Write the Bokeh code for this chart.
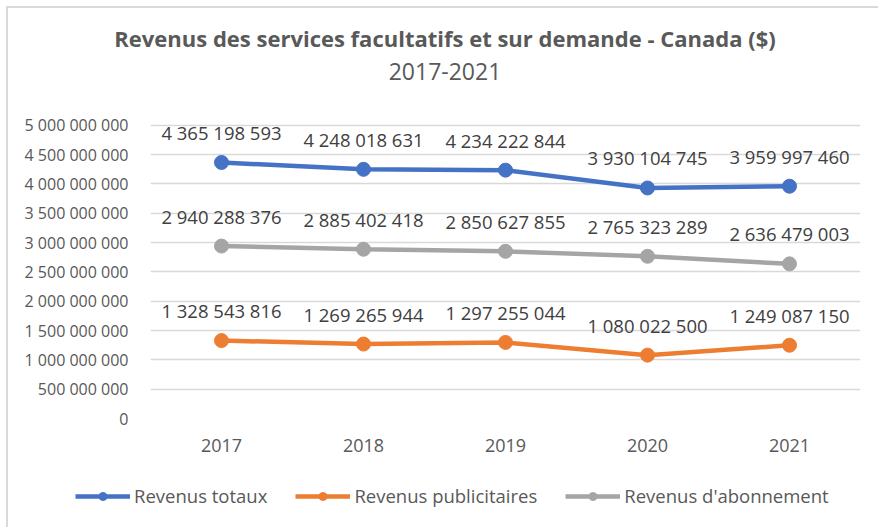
from bokeh.plotting import figure
from bokeh.models import (FactorRange, Range1d, FixedTicker, CustomJSTickFormatter,
                          Legend, LegendItem, ColumnDataSource, Div)
from bokeh.layouts import column
from bokeh.core.properties import value
from bokeh.embed import file_html
from bokeh.resources import INLINE

years = ["2017", "2018", "2019", "2020", "2021"]
revenus_totaux = [4365198593, 4248018631, 4234222844, 3930104745, 3959997460]
revenus_publicitaires = [1328543816, 1269265944, 1297255044, 1080022500, 1249087150]
revenus_abonnement = [2940288376, 2885402418, 2850627855, 2765323289, 2636479003]
y_ticks = [0, 500000000, 1000000000, 1500000000, 2000000000, 2500000000,
           3000000000, 3500000000, 4000000000, 4500000000, 5000000000]
title_text = "Revenus des services facultatifs et sur demande - Canada ($)"
subtitle_text = "2017-2021"

FONT = "Open Sans"
TXT = "#595959"

def fmt(v):
    return "{:,}".format(v).replace(",", " ")

p = figure(x_range=FactorRange(*years, range_padding=0), y_range=Range1d(0, 5.2e9),
           frame_width=710, frame_height=305, output_backend="svg", toolbar_location=None,
           min_border_left=142, min_border_right=18, min_border_top=8, min_border_bottom=48,
           outline_line_color=None)

# legend-only figure below the chart
lf = figure(x_range=FactorRange(*years), y_range=Range1d(-2, -1),
            frame_width=870, frame_height=61, output_backend="svg", toolbar_location=None,
            min_border_left=0, min_border_right=0, min_border_top=0, min_border_bottom=0,
            x_axis_location=None, y_axis_location=None, outline_line_color=None)
lf.xgrid.grid_line_color = None
lf.ygrid.grid_line_color = None

series = [
    ("Revenus totaux", revenus_totaux, "#4472C4"),
    ("Revenus publicitaires", revenus_publicitaires, "#ED7D31"),
    ("Revenus d'abonnement", revenus_abonnement, "#A5A5A5"),
]

items = []
for name, vals, col in series:
    src = ColumnDataSource(dict(x=years, y=vals, lab=[fmt(v) for v in vals]))
    p.line("x", "y", source=src, line_color=col, line_width=4.5)
    p.scatter("x", "y", source=src, size=14, fill_color=col, line_color=col)
    p.text("x", "y", text="lab", source=src, text_align="center", text_baseline="middle",
           y_offset=-30, text_font=value(FONT), text_font_size="18.5px", text_color="#404040")
    l1 = lf.line("x", "y", source=src, line_color=col, line_width=4.5)
    l2 = lf.scatter("x", "y", source=src, size=14, fill_color=col, line_color=col)
    items.append(LegendItem(label=name, renderers=[l1, l2]))

legend = Legend(items=items, orientation="horizontal", location=(67, 19),
                glyph_width=55, glyph_height=20, label_standoff=4, spacing=28,
                label_text_font=FONT, label_text_font_size="18.5px", label_text_color=TXT,
                border_line_color=None, background_fill_alpha=0, margin=0, padding=6)
lf.add_layout(legend, "center")

p.yaxis.ticker = FixedTicker(ticks=y_ticks)
p.yaxis.formatter = CustomJSTickFormatter(code="return Math.round(tick).toString().replace(/\\B(?=(\\d{3})+(?!\\d))/g, ' ');")
for ax in (p.xaxis[0], p.yaxis[0]):
    ax.axis_line_color = None
    ax.major_tick_line_color = None
    ax.minor_tick_line_color = None
    ax.major_label_text_font = FONT
    ax.major_label_text_color = TXT
p.yaxis.major_label_text_font_size = "16px"
p.yaxis.major_label_standoff = 16
p.xaxis.major_label_text_font_size = "18px"
p.xaxis.major_label_standoff = 14

p.xgrid.grid_line_color = None
p.ygrid.grid_line_color = "#D9D9D9"
p.ygrid.grid_line_width = 1.5
p.ygrid.ticker = FixedTicker(ticks=y_ticks)

head = Div(
    text=(f'<div style="position:absolute;left:0;top:10px;width:864px;text-align:center;'
          f'font-family:\'{FONT}\';font-weight:bold;font-size:22px;line-height:30px;color:{TXT};">{title_text}</div>'
          f'<div style="position:absolute;left:0;top:43px;width:864px;text-align:center;'
          f'font-family:\'{FONT}\';font-size:23px;line-height:30px;color:{TXT};">{subtitle_text}</div>'),
    width=870, height=87, styles={"position": "relative"})

layout = column(head, p, lf, spacing=0,
                styles={"margin-left": "6px", "margin-top": "6px",
                        "border-left": "2px solid #D9D9D9", "border-top": "2px solid #D9D9D9"})

open("out.html", "w").write(file_html(layout, INLINE))
